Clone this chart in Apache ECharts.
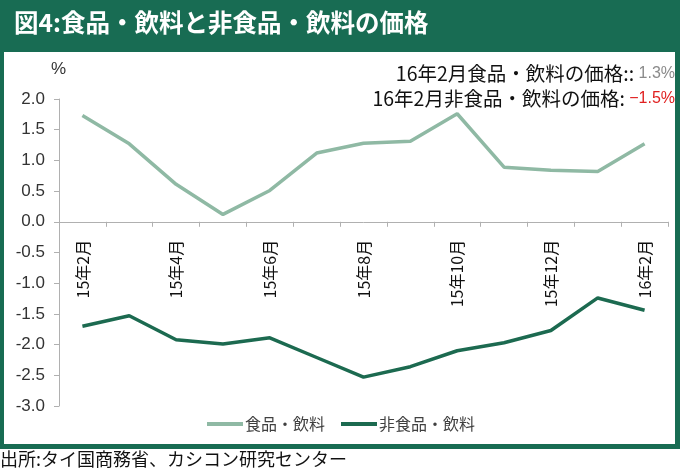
<!DOCTYPE html>
<html>
<head>
<meta charset="utf-8">
<script src="https://cdn.jsdelivr.net/npm/echarts@6/dist/echarts.min.js"></script>
<style>
html,body{margin:0;padding:0;background:#fff;}
#chart{width:680px;height:471px;}
</style>
</head>
<body>
<div id="chart"></div>
<script>
const categories = ['15年2月','15年3月','15年4月','15年5月','15年6月','15年7月','15年8月','15年9月','15年10月','15年11月','15年12月','16年1月','16年2月'];
const foodValues = [1.73,1.27,0.61,0.12,0.51,1.12,1.28,1.31,1.76,0.89,0.84,0.82,1.27];
const nonFoodValues = [-1.70,-1.53,-1.92,-1.99,-1.89,-2.21,-2.53,-2.36,-2.10,-1.97,-1.77,-1.24,-1.44];
const seriesNames = ['食品・飲料','非食品・飲料'];
const titleText = '図4:食品・飲料と非食品・飲料の価格';
const sourceText = '出所:タイ国商務省、カシコン研究センター';
const noteFoodLabel = '16年2月食品・飲料の価格:: ';
const noteFoodValue = '1.3%';
const noteNonFoodLabel = '16年2月非食品・飲料の価格: ';
const noteNonFoodValue = '−1.5%';

const Y_MIN = -3, Y_MAX = 2;
const GRID = {left:59, right:12, top:99, bottom:65};
const CHART_H = 471;

const GREEN = '#186c53';
const LIGHT = '#8fb9a4';
const DARK = '#1c6a50';
const JP = '"Noto Sans CJK JP", "Noto Sans", sans-serif';
const NUM = '"Liberation Sans", Arial, sans-serif';

// place the category axis at value 0 (offset from the grid bottom)
const plotH = CHART_H - GRID.top - GRID.bottom;
const zeroOffset = -plotH * (0 - Y_MIN) / (Y_MAX - Y_MIN);

const chart = echarts.init(document.getElementById('chart'), null, {renderer:'canvas'});
chart.setOption({
  animation:false,
  backgroundColor:'#ffffff',
  graphic:[
    {type:'rect', z:-10, shape:{x:0,y:0,width:680,height:52}, style:{fill:GREEN}},
    {type:'rect', z:-10, shape:{x:0,y:0,width:4,height:449}, style:{fill:GREEN}},
    {type:'rect', z:-10, shape:{x:675,y:0,width:5,height:449}, style:{fill:GREEN}},
    {type:'rect', z:-10, shape:{x:0,y:444,width:680,height:5}, style:{fill:GREEN}},
    {type:'text', left:14, top:10, style:{text:titleText, fill:'#ffffff', font:'bold 24.5px '+JP}},
    {type:'text', left:51, top:61, style:{text:'%', fill:'#333', font:'17px '+NUM}},
    {type:'text', right:5, top:64, style:{
      rich:{a:{fill:'#111', font:'19.5px '+JP}, b:{fill:'#8a8a8a', font:'16px '+NUM}},
      text:'{a|'+noteFoodLabel+'}{b|'+noteFoodValue+'}'}},
    {type:'text', right:5, top:89, style:{
      rich:{a:{fill:'#111', font:'19.5px '+JP}, b:{fill:'#e02020', font:'16px '+NUM}},
      text:'{a|'+noteNonFoodLabel+'}{b|'+noteNonFoodValue+'}'}},
    {type:'text', left:0, top:450, style:{text:sourceText, fill:'#111', font:'18px '+JP}}
  ],
  legend:{
    data:seriesNames,
    left:202, top:411,
    icon:'rect', itemWidth:36, itemHeight:4, itemGap:16,
    textStyle:{fontSize:16, color:'#404040', fontFamily:JP, padding:[0,0,0,-3]}
  },
  grid:{left:GRID.left, right:GRID.right, top:GRID.top, bottom:GRID.bottom, containLabel:false, outerBoundsMode:'none'},
  xAxis:{
    type:'category', data:categories, boundaryGap:true, position:'bottom', offset:zeroOffset,
    axisLine:{onZero:false, lineStyle:{color:'#b0b0b0', width:1}},
    axisTick:{show:true, interval:0, length:5, inside:false, lineStyle:{color:'#b0b0b0'}},
    axisLabel:{interval:1, rotate:90, margin:18, fontSize:16, color:'#111', fontFamily:JP},
    splitLine:{show:false}
  },
  yAxis:{
    type:'value', min:Y_MIN, max:Y_MAX, interval:0.5,
    axisLine:{show:true, lineStyle:{color:'#b0b0b0'}},
    axisTick:{show:true, length:5, lineStyle:{color:'#b0b0b0'}},
    axisLabel:{fontSize:17, color:'#333', fontFamily:NUM, margin:14, formatter:v=>v.toFixed(1)},
    splitLine:{show:false}
  },
  series:[
    {name:seriesNames[0], type:'line', data:foodValues, symbol:'none', color:LIGHT, lineStyle:{width:3.5, color:LIGHT}},
    {name:seriesNames[1], type:'line', data:nonFoodValues, symbol:'none', color:DARK, lineStyle:{width:3.5, color:DARK}}
  ]
});
</script>
</body>
</html>
